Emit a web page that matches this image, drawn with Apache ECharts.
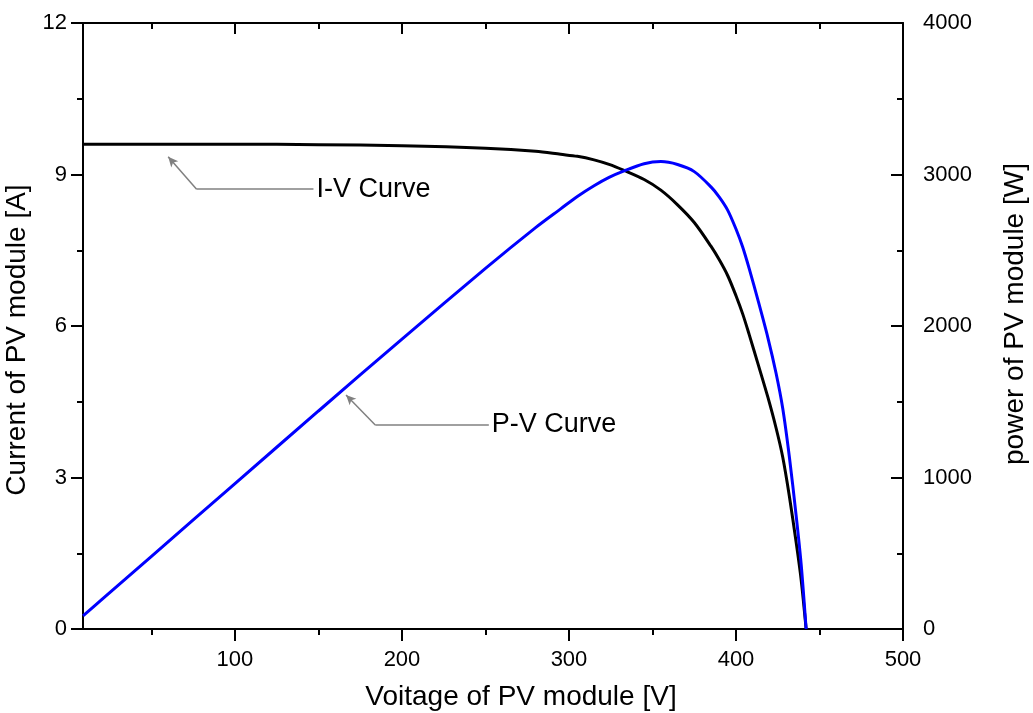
<!DOCTYPE html>
<html>
<head>
<meta charset="utf-8">
<script src="https://cdn.jsdelivr.net/npm/echarts@6/dist/echarts.min.js"></script>
<style>
html,body{margin:0;padding:0;background:#fff;}
#chart{width:1033px;height:713px;}
</style>
</head>
<body>
<div id="chart"></div>
<script>
// Voltage of PV module [V]
const voltage = [9, 20, 50, 100, 150, 200, 250, 280, 295, 305, 315, 324, 333, 345, 355, 365, 375, 385, 390, 395, 400, 404, 408, 413, 419, 424, 428, 432, 436, 439, 442];
// Current of PV module [A]
const current = [9.60, 9.60, 9.60, 9.60, 9.59, 9.57, 9.52, 9.46, 9.40, 9.36, 9.29, 9.20, 9.08, 8.90, 8.69, 8.40, 8.05, 7.58, 7.31, 7.00, 6.60, 6.24, 5.82, 5.27, 4.60, 3.98, 3.40, 2.62, 1.72, 0.98, 0];
// Power of PV module [W]
const power = [86, 192, 480, 960, 1439, 1914, 2380, 2649, 2773, 2855, 2926, 2981, 3024, 3071, 3085, 3066, 3019, 2918, 2851, 2765, 2640, 2521, 2375, 2177, 1927, 1688, 1455, 1132, 750, 430, 0];

const xMajorTicks = [100, 200, 300, 400, 500];
const xMinorTicks = [50, 150, 250, 350, 450];

// annotation anchors in data coordinates
const ivArrow = { head: [60, 9.35], elbow: [77, 8.71], end: [147, 8.71], label: 'I-V Curve' };
const pvArrow = { head: [166.5, 1545], elbow: [184, 1347], end: [252, 1347], label: 'P-V Curve' };

const FONT = 'Liberation Sans, Arial, sans-serif';
const X_MIN = 9, X_MAX = 500;

const pairs = (xs, ys) => xs.map((x, i) => [x, ys[i]]);

const chart = echarts.init(document.getElementById('chart'), null, { renderer: 'canvas' });

const axisLine = { show: true, lineStyle: { color: '#000', width: 2 } };

function annot(a) {
  return {
    silent: true,
    animation: false,
    symbol: ['none', 'none'],
    lineStyle: { color: '#808080', width: 1.5, type: 'solid' },
    label: { show: false },
    data: [
      [
        { coord: a.elbow, symbol: 'none' },
        { coord: a.head, symbol: 'arrow', symbolSize: [7, 10], itemStyle: { color: '#000' } }
      ],
      [
        { coord: a.elbow, symbol: 'none' },
        {
          coord: a.end, symbol: 'none',
          label: {
            show: true, position: 'end', formatter: a.label, distance: 3,
            color: '#000', fontSize: 27, fontFamily: FONT
          }
        }
      ]
    ]
  };
}

const option = {
  animation: false,
  backgroundColor: '#fff',
  grid: { left: 83, right: 130, top: 23, bottom: 84, containLabel: false, outerBoundsMode: 'none' },
  xAxis: [
    {
      type: 'value', min: X_MIN, max: X_MAX, position: 'bottom',
      name: 'Voitage of PV module [V]', nameLocation: 'middle', nameGap: 54,
      nameTextStyle: { color: '#000', fontSize: 28, fontFamily: FONT, padding: [0, 0, 0, 56] },
      axisLine: axisLine,
      axisTick: { show: true, inside: false, length: 12, customValues: xMajorTicks, lineStyle: { color: '#000', width: 2 } },
      axisLabel: { show: true, customValues: xMajorTicks, margin: 20, color: '#000', fontSize: 22, fontFamily: FONT },
      splitLine: { show: false }
    },
    {
      type: 'value', min: X_MIN, max: X_MAX, position: 'bottom',
      axisLine: { show: false },
      axisTick: { show: true, inside: false, length: 6, customValues: xMinorTicks, lineStyle: { color: '#000', width: 2 } },
      axisLabel: { show: false }, splitLine: { show: false }
    },
    {
      type: 'value', min: X_MIN, max: X_MAX, position: 'top',
      axisLine: axisLine,
      axisTick: { show: true, inside: true, length: 11, customValues: xMajorTicks, lineStyle: { color: '#000', width: 2 } },
      axisLabel: { show: false }, splitLine: { show: false }
    },
    {
      type: 'value', min: X_MIN, max: X_MAX, position: 'top',
      axisLine: { show: false },
      axisTick: { show: true, inside: true, length: 6, customValues: xMinorTicks, lineStyle: { color: '#000', width: 2 } },
      axisLabel: { show: false }, splitLine: { show: false }
    }
  ],
  yAxis: [
    {
      type: 'value', min: 0, max: 12, interval: 3, position: 'left',
      name: 'Current of PV module [A]', nameLocation: 'middle', nameGap: 44, nameRotate: 90,
      nameTextStyle: { color: '#000', fontSize: 28, fontFamily: FONT, padding: [0, 28, 0, 0] },
      axisLine: axisLine,
      axisTick: { show: true, inside: false, length: 12, lineStyle: { color: '#000', width: 2 } },
      minorTick: { show: true, splitNumber: 2, length: 6, lineStyle: { color: '#000', width: 2 } },
      axisLabel: { margin: 16, color: '#000', fontSize: 22, fontFamily: FONT },
      splitLine: { show: false }
    },
    {
      type: 'value', min: 0, max: 4000, interval: 1000, position: 'right',
      name: 'power of PV module [W]', nameLocation: 'middle', nameGap: 98, nameRotate: 90,
      nameTextStyle: { color: '#000', fontSize: 28, fontFamily: FONT, padding: [0, 0, 0, 24] },
      axisLine: axisLine,
      axisTick: { show: true, inside: true, length: 12, lineStyle: { color: '#000', width: 2 } },
      minorTick: { show: true, splitNumber: 2, length: 6, lineStyle: { color: '#000', width: 2 } },
      axisLabel: { margin: 20, color: '#000', fontSize: 22, fontFamily: FONT, formatter: (v) => String(v) },
      splitLine: { show: false }
    }
  ],
  series: [
    {
      name: 'I-V Curve', type: 'line', xAxisIndex: 0, yAxisIndex: 0,
      data: pairs(voltage, current), showSymbol: false, smooth: 0.3,
      lineStyle: { color: '#000', width: 3 }, itemStyle: { color: '#000' },
      markLine: annot(ivArrow), z: 2
    },
    {
      name: 'P-V Curve', type: 'line', xAxisIndex: 0, yAxisIndex: 1,
      data: pairs(voltage, power), showSymbol: false, smooth: 0.3,
      lineStyle: { color: '#0000ff', width: 3 }, itemStyle: { color: '#0000ff' },
      markLine: annot(pvArrow), z: 3
    }
  ]
};

chart.setOption(option);
</script>
</body>
</html>
